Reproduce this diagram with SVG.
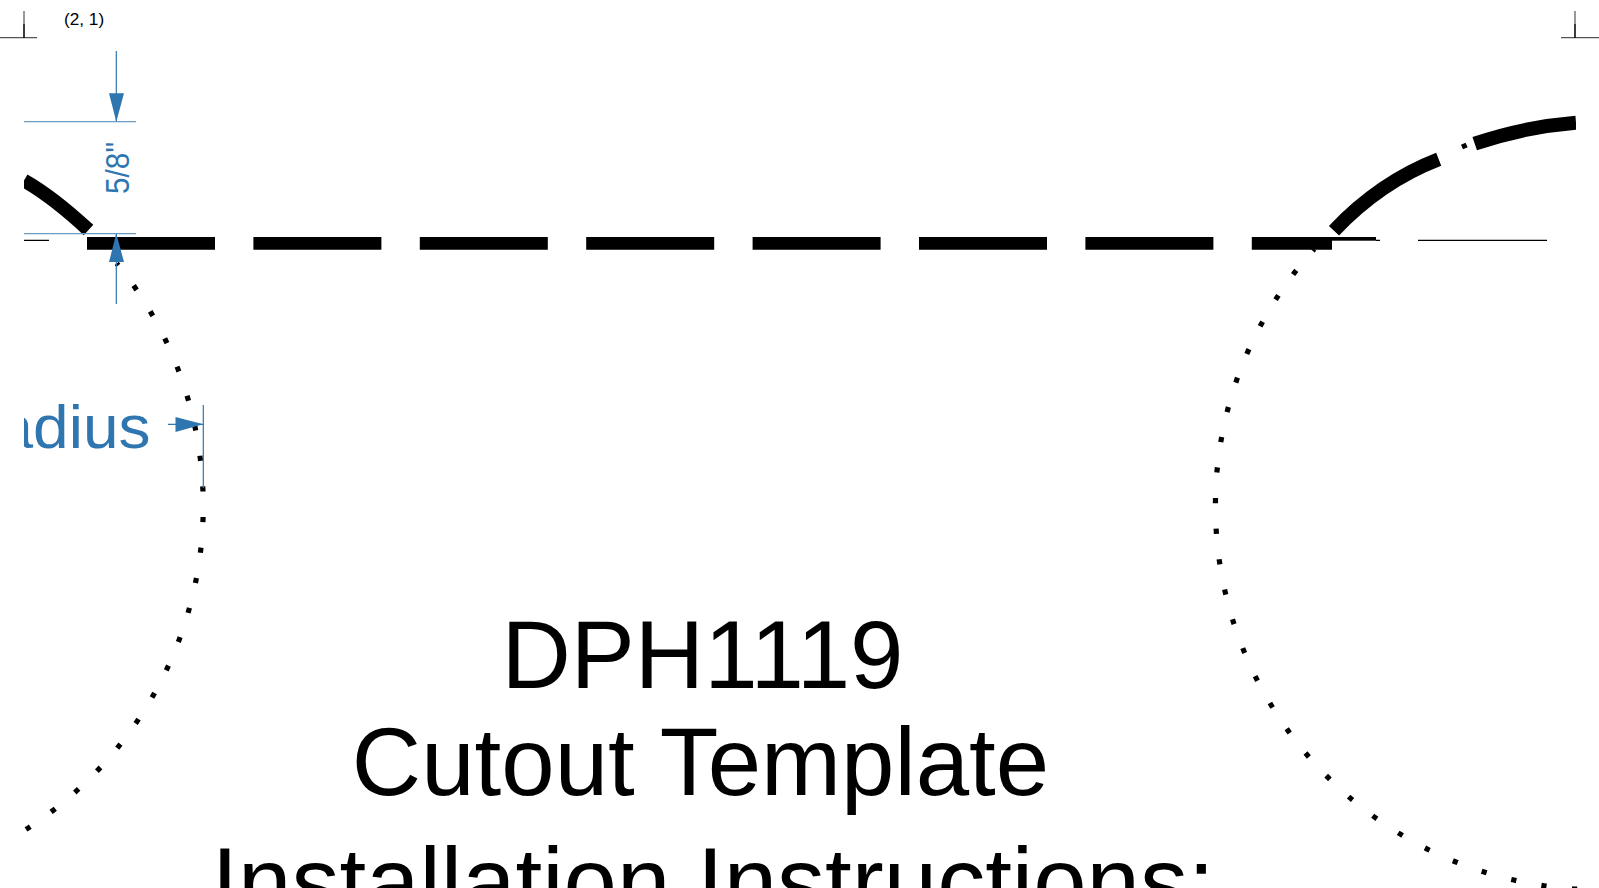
<svg xmlns="http://www.w3.org/2000/svg" width="1599" height="888" viewBox="0 0 1599 888">
<style>
.t{font-family:"Liberation Sans",Arial,sans-serif;fill:#000}
.b{font-family:"Liberation Sans",Arial,sans-serif;fill:#2f75b0}
.thick{fill:none;stroke:#000;stroke-width:14}
.dot{fill:none;stroke:#000;stroke-width:5.2;stroke-dasharray:5.2 25.5;stroke-dashoffset:2.6}
.thin{stroke:#000;stroke-width:1.2;fill:none}
.crop{stroke:#555;stroke-width:1.2;fill:none}
.dim{stroke:#2f75b0;stroke-width:1.2;fill:none}
.ext{stroke:#6a9cc6;stroke-width:1.2;fill:none}
.head{fill:#2f75b0}
</style>
<defs><clipPath id="page"><rect x="24" y="0" width="1552" height="888"/></clipPath></defs>
<rect width="1599" height="888" fill="#fff"/>
<g id="crop-marks">
<path class="crop" d="M0 37.6H37M24 11V38M1561 37.6H1599M1575 11V38"/>
<path d="M24 24V38M1575 24V38" stroke="#000" stroke-width="1.2" fill="none"/>
</g>
<text class="t" x="64" y="25" font-size="17.2">(2, 1)</text>
<g id="dotted-cutouts">
<path class="dot" d="M116.7 263.3A383.6 383.6 0 0 1 25.8 829.5"/>
<path class="dot" d="M1314.3 248.9A383.7 383.7 0 0 0 1599 889.7"/>
</g>
<g id="outline" clip-path="url(#page)">
<path class="thin" d="M24 240.3H49M1376 240.3H1380M1418 240.3H1547"/>
<path class="thick" style="stroke-width:12.7" d="M87 243.3H1332" stroke-dasharray="128 38.4"/>
<rect x="1332" y="237" width="44" height="3.7" fill="#000"/>
<path class="thick" d="M24 180.5Q53 197 88.5 230"/>
<path class="thick" d="M1334 230.7Q1380 182 1438.7 159.3"/>
<path d="M1462 147.1L1466.6 145" fill="none" stroke="#000" stroke-width="5"/>
<path class="thick" d="M1474.7 143.7Q1524.6 126.8 1576 122.7"/>
</g>
<g id="dimension-5-8">
<path class="ext" d="M24 121.7H136M24 233.6H136"/>
<path class="dim" d="M116.3 51V121M116.3 234V304"/>
<path class="head" d="M109 93.3H124L116.3 121.7ZM109 262H124L116.3 233.6Z"/>
<text class="b" transform="translate(129 194) rotate(-90)" font-size="33" textLength="52" lengthAdjust="spacingAndGlyphs">5/8"</text>
</g>
<g id="dimension-radius">
<text class="b" x="150.5" y="447.5" font-size="62" text-anchor="end" textLength="153" lengthAdjust="spacingAndGlyphs" clip-path="url(#page)">adius</text>
<path class="dim" d="M168 424.3H203M203.3 405V488"/>
<path class="head" d="M175.5 417V432L203.3 424.3Z"/>
</g>
<g id="title">
<text class="t" x="702.5" y="688.3" font-size="96" text-anchor="middle">DPH1119</text>
<text class="t" x="700.5" y="795" font-size="96" text-anchor="middle">Cutout Template</text>
<text class="t" x="713" y="915" font-size="96" text-anchor="middle">Installation Instructions:</text>
</g>
</svg>
